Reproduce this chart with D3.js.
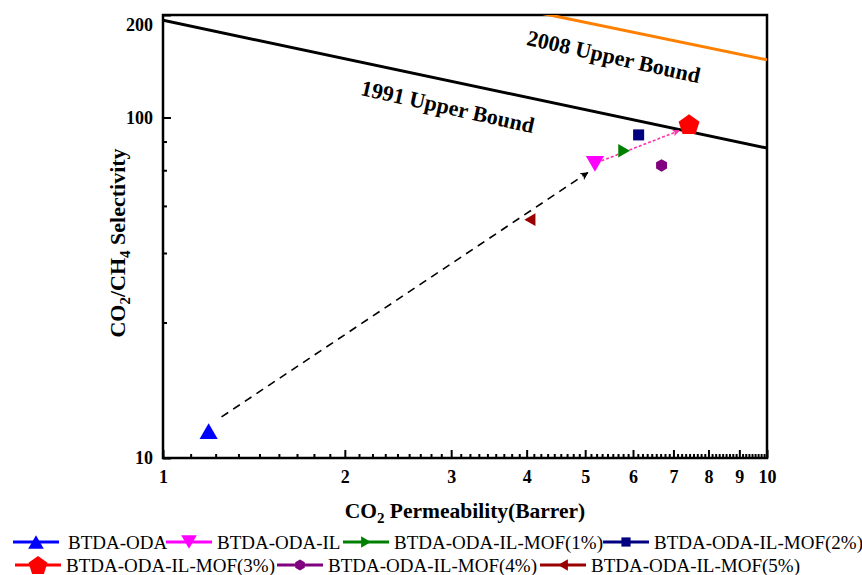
<!DOCTYPE html>
<html>
<head>
<meta charset="utf-8">
<script src="https://cdn.jsdelivr.net/npm/d3@7"></script>
<style>
  body { margin: 0; background: #fff; }
  svg { display: block; font-family: "Liberation Serif", "Times New Roman", serif; }
  .axis path { display: none; }
  .axis line { stroke: #000; stroke-width: 2; }
  .axis text { font-size: 18px; font-weight: bold; fill: #000; font-family: "Liberation Serif", serif; }
</style>
</head>
<body>
<svg width="862" height="575"></svg>
<script>
// series
var seriesNames = ["BTDA-ODA", "BTDA-ODA-IL", "BTDA-ODA-IL-MOF(1%)", "BTDA-ODA-IL-MOF(2%)",
                   "BTDA-ODA-IL-MOF(3%)", "BTDA-ODA-IL-MOF(4%)", "BTDA-ODA-IL-MOF(5%)"];
var permeability = [1.19, 5.19, 5.80, 6.13, 7.43, 6.69, 4.05];   // CO2 permeability (Barrer)
var selectivity  = [12.0, 73.1, 79.9, 88.9, 95.6, 72.3, 50.1];   // CO2/CH4 selectivity
var colors = ["#0000ff", "#ff00ff", "#008000", "#000080", "#ff0000", "#800080", "#990000"];

// upper bounds
var bound1991Perm = [1, 10];
var bound1991Sel  = [193, 81.3];
var bound2008Perm = [1, 10];
var bound2008Sel  = [343, 147.7];

// arrows (from -> to)
var arrowFromPerm = [1.25, 5.32];
var arrowFromSel  = [13.2, 74.6];
var arrowToPerm   = [5.05, 7.15];
var arrowToSel    = [68.9, 91.4];

// ticks
var xTicks = [1, 2, 3, 4, 5, 6, 7, 8, 9, 10];
var yTicks = [10, 100, 200];
var yMinorTicks = [25, 40, 55, 70, 85];

var margin = { top: 15, right: 95, bottom: 117, left: 163 };
var width = 862 - margin.left - margin.right;
var height = 575 - margin.top - margin.bottom;

var svg = d3.select("svg");
var g = svg.append("g")
    .attr("transform", "translate(" + margin.left + "," + margin.top + ")");

var xScale = d3.scaleLog().domain([1, 10]).range([0, width]);
var yScale = d3.scaleLog().domain([10, 200]).range([height, 0]);

// minor x ticks: 8 between each pair of majors
var xMinorTicks = [];
for (var i = 0; i < xTicks.length - 1; i++) {
    for (var k = 1; k < 9; k++) xMinorTicks.push(xTicks[i] + k * (xTicks[i + 1] - xTicks[i]) / 9);
}

// marker shape: regular polygon centred on its bounding box
function polygon(n, r, rot) {
    var pts = d3.range(n).map(function(i) {
        var a = rot + i * 2 * Math.PI / n;
        return [r * Math.sin(a), -r * Math.cos(a)];
    });
    var cx = (d3.min(pts, function(p) { return p[0]; }) + d3.max(pts, function(p) { return p[0]; })) / 2;
    var cy = (d3.min(pts, function(p) { return p[1]; }) + d3.max(pts, function(p) { return p[1]; })) / 2;
    return "M" + pts.map(function(p) { return (p[0] - cx).toFixed(2) + "," + (p[1] - cy).toFixed(2); }).join("L") + "Z";
}
var shapes = [
    polygon(3, 10.5, 0),
    polygon(3, 10.5, Math.PI),
    polygon(3, 7.8, Math.PI / 2),
    polygon(4, 7.8, Math.PI / 4),
    polygon(5, 11, 0),
    polygon(6, 6.3, 0),
    polygon(3, 7.4, -Math.PI / 2)
];
var legendShapes = [
    polygon(3, 9, 0),
    polygon(3, 9, Math.PI),
    polygon(3, 6.5, Math.PI / 2),
    polygon(4, 6.5, Math.PI / 4),
    polygon(5, 10, 0),
    polygon(6, 5.5, 0),
    polygon(3, 6.5, -Math.PI / 2)
];

// clip
svg.append("defs").append("clipPath").attr("id", "clip")
    .append("rect").attr("width", width).attr("height", height);

var defs = svg.select("defs");
defs.append("marker").attr("id", "headBlack")
    .attr("viewBox", "0 0 10 10").attr("refX", 9).attr("refY", 5)
    .attr("markerWidth", 12).attr("markerHeight", 8).attr("markerUnits", "userSpaceOnUse")
    .attr("orient", "auto")
    .append("path").attr("d", "M0,0L10,5L0,10L2.5,5Z").attr("fill", "#000");
defs.append("marker").attr("id", "headPink")
    .attr("viewBox", "0 0 10 10").attr("refX", 9).attr("refY", 5)
    .attr("markerWidth", 11).attr("markerHeight", 7).attr("markerUnits", "userSpaceOnUse")
    .attr("orient", "auto")
    .append("path").attr("d", "M0,0L10,5L0,10L2.5,5Z").attr("fill", "#ff33aa");

// axes
g.append("g")
    .attr("class", "axis axis--x")
    .attr("transform", "translate(0," + height + ")")
    .call(d3.axisBottom(xScale).tickValues(xTicks).tickFormat(d3.format("d"))
        .tickSizeInner(-8).tickSizeOuter(0).tickPadding(12));
g.append("g")
    .attr("class", "axis")
    .attr("transform", "translate(0," + height + ")")
    .call(d3.axisBottom(xScale).tickValues(xMinorTicks).tickFormat("")
        .tickSizeInner(-4).tickSizeOuter(0));
g.append("g")
    .attr("class", "axis axis--y")
    .call(d3.axisLeft(yScale).tickValues(yTicks).tickFormat(d3.format("d"))
        .tickSizeInner(-8).tickSizeOuter(0).tickPadding(10));
g.append("g")
    .attr("class", "axis")
    .call(d3.axisLeft(yScale).tickValues(yMinorTicks).tickFormat("")
        .tickSizeInner(-4).tickSizeOuter(0));
// keep the top label inside
g.select(".axis--y").selectAll(".tick text")
    .filter(function(d) { return d === 200; })
    .attr("dy", "0.85em");

// frame
g.append("rect")
    .attr("width", width).attr("height", height)
    .attr("fill", "none").attr("stroke", "#000").attr("stroke-width", 2.5);

// upper bound lines
var line = d3.line()
    .x(function(d) { return xScale(d[0]); })
    .y(function(d) { return yScale(d[1]); });

var plot = g.append("g").attr("clip-path", "url(#clip)");
plot.append("path")
    .datum(d3.zip(bound1991Perm, bound1991Sel))
    .attr("d", line).attr("fill", "none").attr("stroke", "#000").attr("stroke-width", 3);
plot.append("path")
    .datum(d3.zip(bound2008Perm, bound2008Sel))
    .attr("d", line).attr("fill", "none").attr("stroke", "#ff8000").attr("stroke-width", 3);

// bound labels
function slopeAngle(perm, sel) {
    var dx = xScale(perm[1]) - xScale(perm[0]);
    var dy = yScale(sel[1]) - yScale(sel[0]);
    return Math.atan2(dy, dx) * 180 / Math.PI;
}
var ang = slopeAngle(bound1991Perm, bound1991Sel) + 0.6;
g.append("text")
    .attr("transform", "translate(" + (446 - margin.left) + "," + (114 - margin.top) + ") rotate(" + ang + ")")
    .attr("text-anchor", "middle")
    .attr("font-size", "22px").attr("font-weight", "bold")
    .text("1991 Upper Bound");
g.append("text")
    .attr("transform", "translate(" + (612 - margin.left) + "," + (64 - margin.top) + ") rotate(" + ang + ")")
    .attr("text-anchor", "middle")
    .attr("font-size", "22px").attr("font-weight", "bold")
    .text("2008 Upper Bound");

// arrows
var arrowStyles = [
    { color: "#000", dash: "8,6", head: "url(#headBlack)" },
    { color: "#ff33aa", dash: "3,2", head: "url(#headPink)" }
];
arrowStyles.forEach(function(s, i) {
    g.append("line")
        .attr("x1", xScale(arrowFromPerm[i])).attr("y1", yScale(arrowFromSel[i]))
        .attr("x2", xScale(arrowToPerm[i])).attr("y2", yScale(arrowToSel[i]))
        .attr("stroke", s.color).attr("stroke-width", 1.6)
        .attr("stroke-dasharray", s.dash)
        .attr("marker-end", s.head);
});

// points
g.selectAll(".pt")
    .data(seriesNames)
    .enter().append("path")
    .attr("class", "pt")
    .attr("transform", function(d, i) {
        return "translate(" + xScale(permeability[i]) + "," + yScale(selectivity[i]) + ")";
    })
    .attr("d", function(d, i) { return shapes[i]; })
    .attr("fill", function(d, i) { return colors[i]; });

// axis titles
var yTitle = svg.append("text")
    .attr("transform", "rotate(-90)")
    .attr("x", -243).attr("y", 125)
    .attr("text-anchor", "middle")
    .attr("font-size", "22px").attr("font-weight", "bold");
yTitle.append("tspan").text("CO");
yTitle.append("tspan").attr("font-size", "15px").attr("dy", 5).text("2");
yTitle.append("tspan").attr("dy", -5).text("/CH");
yTitle.append("tspan").attr("font-size", "15px").attr("dy", 5).text("4");
yTitle.append("tspan").attr("dy", -5).text(" Selectivity");

var xTitle = svg.append("text")
    .attr("x", 465).attr("y", 518)
    .attr("text-anchor", "middle")
    .attr("font-size", "21.5px").attr("font-weight", "bold");
xTitle.append("tspan").text("CO");
xTitle.append("tspan").attr("font-size", "15px").attr("dy", 5).text("2");
xTitle.append("tspan").attr("dy", -5).text(" Permeability(Barrer)");

// legend: two rows
var legendRows = [[0, 1, 2, 3], [4, 5, 6]];
var legendX = [[13, 166, 343, 603], [15, 277, 540]];
var legendY = [542, 565];
legendRows.forEach(function(row, r) {
    row.forEach(function(idx, j) {
        var x0 = legendX[r][j];
        var lg = svg.append("g").attr("transform", "translate(" + x0 + "," + legendY[r] + ")");
        lg.append("line").attr("x1", 0).attr("x2", 46)
            .attr("stroke", colors[idx]).attr("stroke-width", 3);
        lg.append("path").attr("transform", "translate(23,0)")
            .attr("d", legendShapes[idx]).attr("fill", colors[idx]);
        lg.append("text")
            .attr("x", (r === 0 && j === 0) ? 55 : 51).attr("y", 6.5)
            .attr("font-size", "19px")
            .text(seriesNames[idx]);
    });
});
</script>
</body>
</html>
